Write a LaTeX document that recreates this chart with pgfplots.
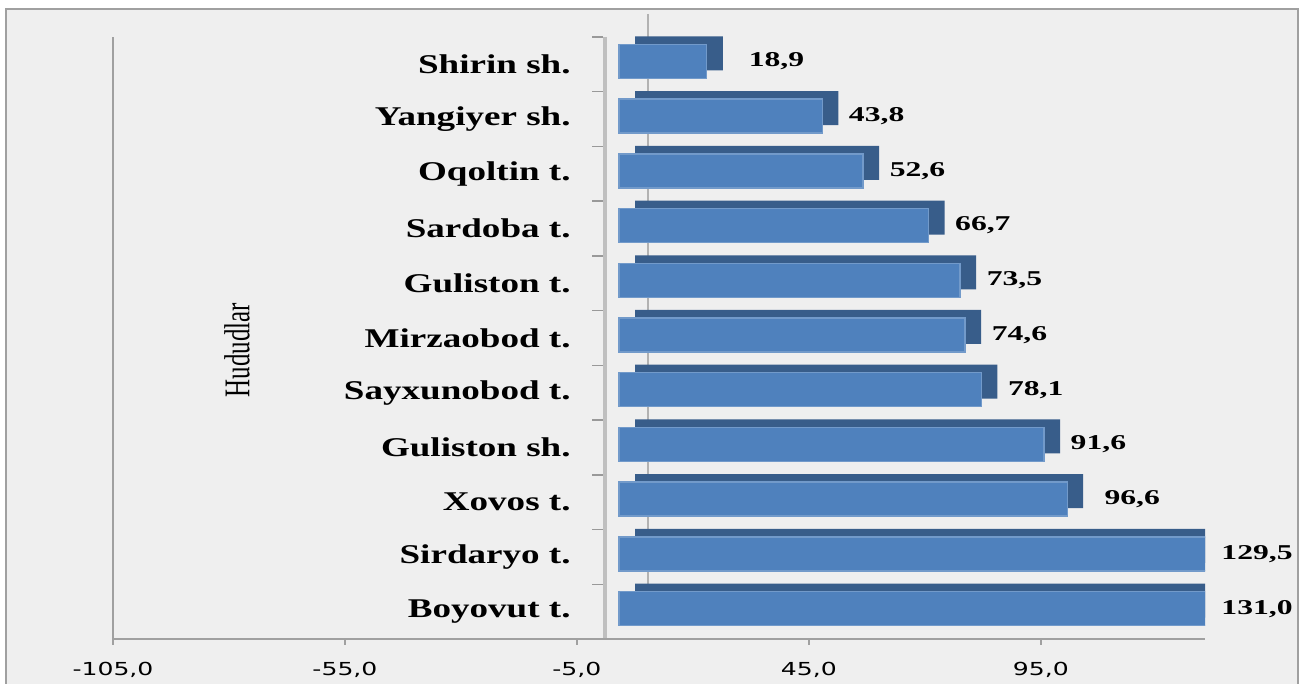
\documentclass[border=0pt]{standalone}
\usepackage{graphicx}
\usepackage{pgfplots}
\pgfplotsset{compat=1.18}
\usepackage{pgfplotstable}
\usepackage{fontspec}
\setmainfont{Liberation Serif}
\newfontfamily\catfont[FakeStretch=1.37]{Liberation Serif}
\newfontfamily\valfont[FakeStretch=1.5]{Liberation Serif}
\newfontfamily\tickfont[FakeStretch=1.4]{DejaVu Sans}

\definecolor{barfront}{HTML}{4F81BD}
\definecolor{barback}{HTML}{385D8A}
\definecolor{panel}{HTML}{EFEFEF}
\definecolor{axgray}{HTML}{A0A0A0}

% pos 0 = bottom row; lx = where the value label sits
\pgfplotstableread{
pos name value label lx
0 {Boyovut t.} 131.0 131,0 124.1
1 {Sirdaryo t.} 129.5 129,5 124.1
2 {Xovos t.} 96.6 96,6 98.9
3 {Guliston sh.} 91.6 91,6 91.6
4 {Sayxunobod t.} 78.1 78,1 78.1
5 {Mirzaobod t.} 74.6 74,6 74.6
6 {Guliston t.} 73.5 73,5 73.5
7 {Sardoba t.} 66.7 66,7 66.7
8 {Oqoltin t.} 52.6 52,6 52.6
9 {Yangiyer sh.} 43.8 43,8 43.8
10 {Shirin sh.} 18.9 18,9 22.2
}\regions

\begin{document}
\begin{tikzpicture}
\fill[white] (0,0) rectangle (13.01,6.84);
\fill[panel] (0.06,-0.2) rectangle (12.98,6.75);
\draw[axgray, line width=0.02cm] (0.06,-0.2) rectangle (12.98,6.75);
% back wall line
\draw[gray!60, line width=0.025cm] (6.48,6.70) -- (6.48,0.84);
% category axis
\draw[gray!50, line width=0.04cm] (6.05,6.47) -- (6.05,0.45);
\foreach \k in {0,...,11}
  \draw[gray!80, line width=0.015cm] (5.92,{6.47-0.5473*\k}) -- (6.03,{6.47-0.5473*\k});
\begin{axis}[
  at={(1.13cm,0.45cm)}, anchor=south west,
  scale only axis, width=10.92cm, height=6.02cm,
  xmin=-105, xmax=130.4, ymin=-0.5, ymax=10.5,
  axis x line*=bottom, axis y line*=left,
  axis line style={axgray, line width=0.6pt, -},
  xtick={-105,-55,-5,45,95},
  xtick align=outside, major tick length=0.06cm,
  xtick style={axgray, line width=0.6pt},
  ytick={0,...,10}, ytick style={draw=none},
  yticklabels from table={\regions}{name},
  yticklabel style={font=\catfont\bfseries\fontsize{7.7}{9}\selectfont, anchor=east, xshift=4.7cm},
  xticklabel style={font=\tickfont\fontsize{5.1}{6}\selectfont, yshift=-0.05cm},
  /pgf/number format/fixed,
  /pgf/number format/fixed zerofill,
  /pgf/number format/precision=1,
  /pgf/number format/use comma,
  /pgf/number format/assume math mode=true,
  ylabel={\scalebox{1}[1.45]{Hududlar}},
  ylabel style={at={(axis description cs:0.1136,0.48)}, anchor=center, font=\fontsize{7.1}{8}\selectfont},
]
\addplot[xbar, bar shift=0pt, bar width=0.34cm, fill=barback, draw=none,
  xshift=0.35cm, yshift=0.11cm] table[x=value, y=pos] {\regions};
\addplot[xbar, bar shift=0pt, bar width=0.34cm, fill=barfront, draw=barfront!80!white,
  line width=0.4pt, xshift=0.19cm, yshift=0.03cm] table[x=value, y=pos] {\regions};
\addplot[draw=none, mark=none, nodes near coords, point meta=explicit symbolic,
  nodes near coords style={anchor=west, inner sep=0pt, xshift=0.45cm, yshift=0.03cm,
    text=black, font=\valfont\bfseries\fontsize{6}{7}\selectfont}]
  table[x=lx, y=pos, meta=label] {\regions};
\end{axis}
\pgfresetboundingbox
\path[use as bounding box] (0,0) rectangle (13.01,6.84);
\end{tikzpicture}
\end{document}
